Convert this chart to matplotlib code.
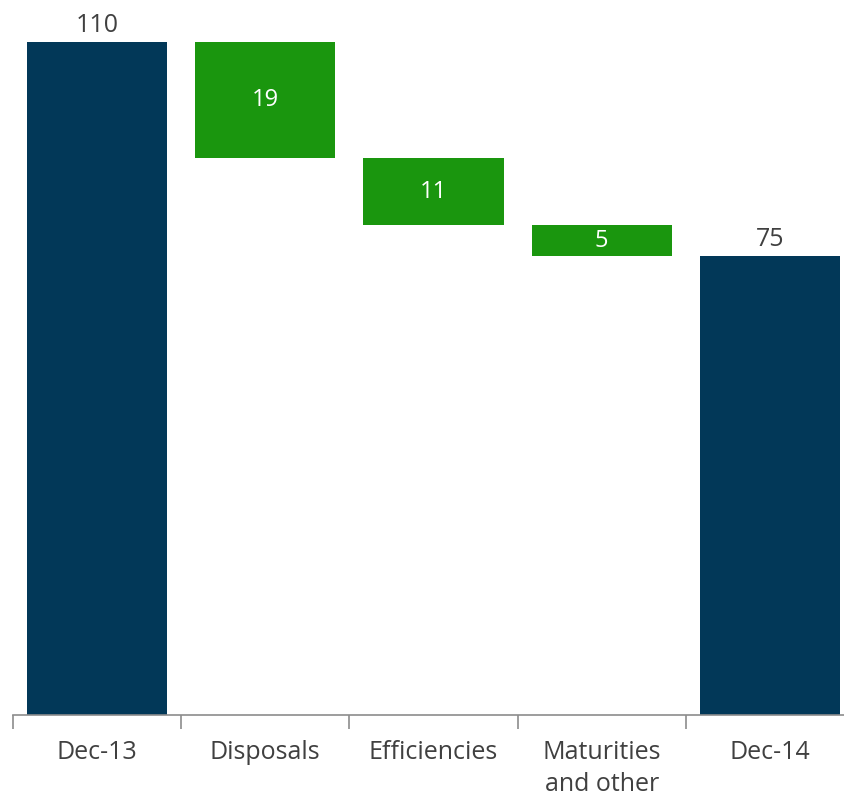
import matplotlib.pyplot as plt
from matplotlib.ticker import FixedLocator

plt.rcParams['font.family'] = ['Open Sans', 'DejaVu Sans']

categorias = ["Dec-13", "Disposals", "Efficiencies", "Maturities\nand other", "Dec-14"]
inicio = 110
cambios = [19, 11, 5]
final = 75

azul = "#023858"
verde = "#1A960E"
gris_texto = "#404040"

fig = plt.figure(figsize=(8.45, 7.97), dpi=100)
ax = fig.add_axes([13 / 845, 1 - 715 / 797, 841 / 845, 715 / 797])

ancho = 0.833
x = list(range(len(categorias)))

# barras totales
ax.bar(x[0], inicio, width=ancho, color=azul)
ax.bar(x[-1], final, width=ancho, color=azul)
ax.text(x[0], inicio + 0.6, str(inicio), ha="center", va="bottom", fontsize=18, color=gris_texto)
ax.text(x[-1], final + 0.6, str(final), ha="center", va="bottom", fontsize=18, color=gris_texto)

# barras de cambio (cascada)
nivel = inicio
for i, c in enumerate(cambios):
    pos = x[i + 1]
    ax.bar(pos, c, bottom=nivel - c, width=ancho, color=verde)
    ax.text(pos, nivel - c / 2, str(c), ha="center", va="center", fontsize=17, color="white")
    nivel -= c

ax.set_xlim(-0.5, len(categorias) - 0.5)
ax.set_ylim(0, 715 / 6.12)

for lado in ["top", "right", "left"]:
    ax.spines[lado].set_visible(False)
ax.spines["bottom"].set_color("#8c8c8c")
ax.spines["bottom"].set_linewidth(1.2)
ax.set_yticks([])

# marcas entre categorias, etiquetas centradas
ax.xaxis.set_major_locator(FixedLocator([i - 0.5 for i in range(len(categorias) + 1)]))
ax.xaxis.set_major_formatter(plt.NullFormatter())
ax.xaxis.set_minor_locator(FixedLocator(x))
ax.set_xticklabels(categorias, minor=True, fontsize=18, color=gris_texto, linespacing=1.38, va="top")
ax.tick_params(axis="x", which="major", length=10, width=1.2, color="#8c8c8c")
ax.tick_params(axis="x", which="minor", length=0, pad=18)

fig.savefig("out.png", dpi=100)
